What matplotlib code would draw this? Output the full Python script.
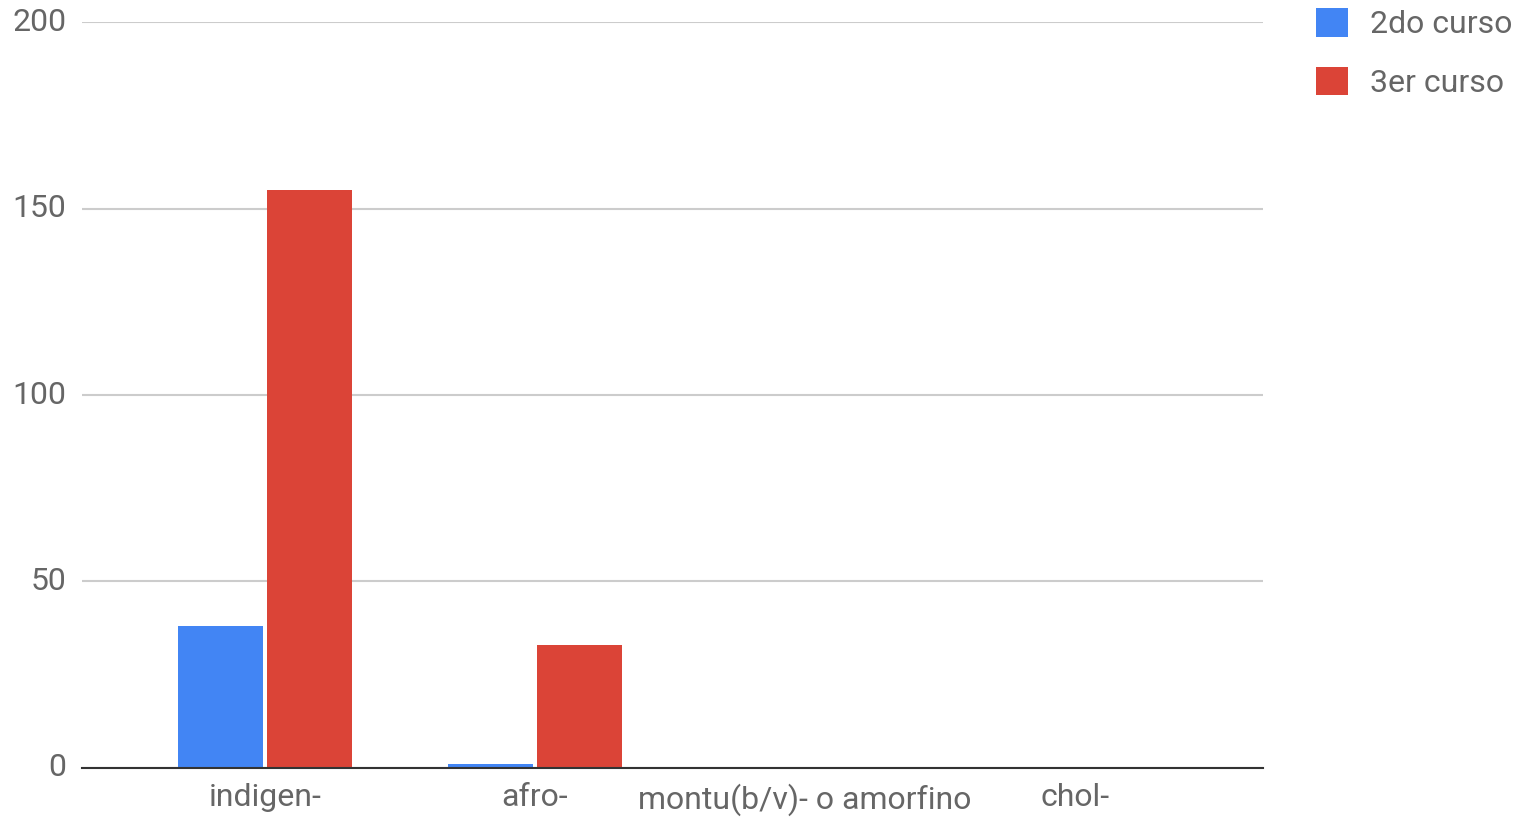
import matplotlib
matplotlib.use("Agg")
from matplotlib import pyplot as plt
import numpy as np

plt.rcParams['font.family'] = ['Roboto', 'DejaVu Sans']

categories = ["indigen-", "afro-", "montu(b/v)- o amorfino", "chol-"]
segundo = [38, 1, 0, 0]
tercero = [155, 33, 0, 0]
series_names = ["2do curso", "3er curso"]
colors = ["#4285f4", "#db4437"]
yticks = [0, 50, 100, 150, 200]

fig = plt.figure(figsize=(15.26, 8.17), dpi=100)
ax = fig.add_axes([0.0537, 0.06, 0.774, 0.913])

x = np.arange(len(categories))
w = 0.315
gap = 0.006
ax.bar(x - w / 2 - gap, segundo, width=w, color=colors[0], label=series_names[0], zorder=3)
ax.bar(x + w / 2 + gap, tercero, width=w, color=colors[1], label=series_names[1], zorder=3)

ax.set_xlim(-0.678, len(categories) - 1 + 0.696)
ax.set_ylim(0, 200)
ax.set_yticks(yticks)
ax.set_xticks(x)
ax.set_xticklabels(categories)
ax.tick_params(axis='both', length=0, labelsize=23, colors='#666666')
ax.tick_params(axis='x', pad=11)
ax.tick_params(axis='y', pad=11)
for lbl in ax.get_yticklabels():
    lbl.set_verticalalignment('center')

ax.grid(axis='y', color='#cccccc', linewidth=1.5, zorder=0)
for s in ['top', 'right', 'left']:
    ax.spines[s].set_visible(False)
ax.spines['bottom'].set_color('#333333')
ax.spines['bottom'].set_linewidth(1.5)
ax.spines['bottom'].set_zorder(4)

leg = fig.legend(loc='upper left', bbox_to_anchor=(0.8624, 0.99), frameon=False,
                 fontsize=23, handlelength=1.0, handleheight=1.0,
                 handletextpad=0.7, labelspacing=0.85,
                 borderpad=0, borderaxespad=0)
for t in leg.get_texts():
    t.set_color('#666666')

fig.savefig("out.png", dpi=100)
